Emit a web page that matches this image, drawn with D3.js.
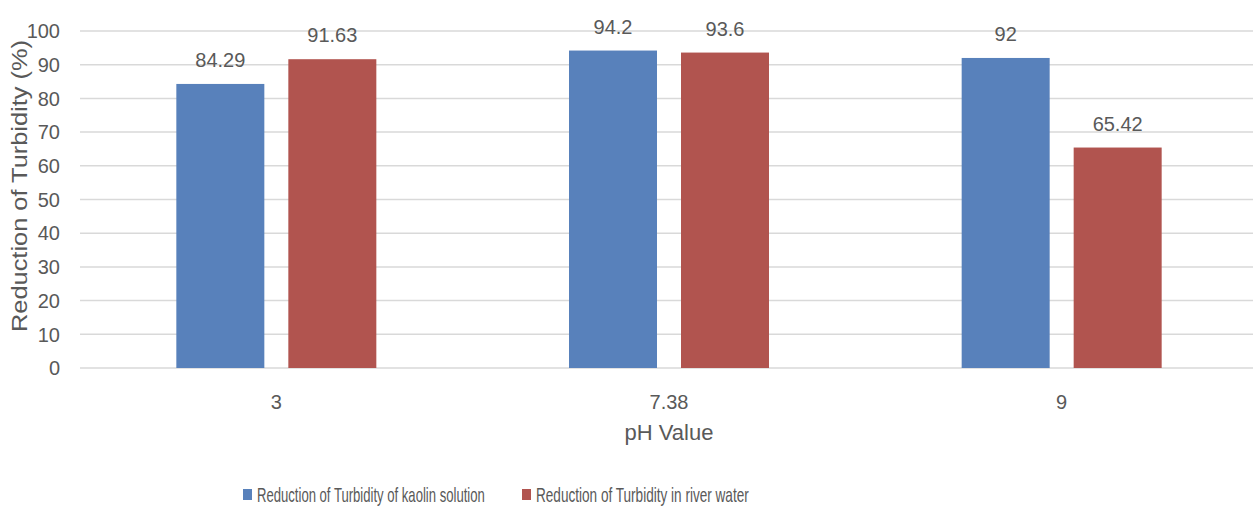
<!DOCTYPE html>
<html><head><meta charset="utf-8">
<script src="https://cdn.jsdelivr.net/npm/d3@7"></script>
<style>body{margin:0;background:#fff}svg{display:block}text{font-family:"Liberation Sans",Arial,sans-serif;fill:#595959}</style>
</head><body><svg id="c" width="1253" height="508"></svg>
<script>
const categories = ["3", "7.38", "9"];
const seriesNames = ["Reduction of Turbidity of kaolin solution", "Reduction of Turbidity in river water"];
const kaolin = [84.29, 94.2, 92];
const river = [91.63, 93.6, 65.42];
const valueLabels = [["84.29", "94.2", "92"], ["91.63", "93.6", "65.42"]];
const yTicks = [0, 10, 20, 30, 40, 50, 60, 70, 80, 90, 100];
const colors = ["#5881BB", "#B1544F"];

const svg = d3.select("#c");
const m = {left: 80, right: -5, top: 31, bottom: 140};
const W = 1253, H = 508;
const x = d3.scaleBand().domain(categories).range([m.left, W - m.right]).paddingInner(0).paddingOuter(0);
const y = d3.scaleLinear().domain([0, 100]).range([368, 31]);
const half = x.bandwidth() / 2;
const inner = d3.scaleBand().domain([0, 1]).range([half - 100, half + 100]).paddingInner(24 / 112);

// gridlines
svg.append("g").selectAll("line").data(yTicks).join("line")
  .attr("x1", m.left).attr("x2", W).attr("y1", d => y(d)).attr("y2", d => y(d))
  .attr("stroke", "#d9d9d9").attr("stroke-width", 1.5);

// y tick labels
svg.append("g").selectAll("text").data(yTicks).join("text")
  .attr("x", 60).attr("y", d => y(d)).attr("dy", "0.36em").attr("text-anchor", "end")
  .attr("font-size", 20).text(d => d);

const series = [kaolin, river];
series.forEach((vals, si) => {
  const g = svg.append("g");
  g.selectAll("rect").data(vals).join("rect")
    .attr("x", (d, i) => x(categories[i]) + inner(si))
    .attr("width", inner.bandwidth())
    .attr("y", d => y(d)).attr("height", d => y(0) - y(d))
    .attr("fill", colors[si]);
  g.selectAll("text").data(vals).join("text")
    .attr("x", (d, i) => x(categories[i]) + inner(si) + inner.bandwidth() / 2)
    .attr("y", d => y(d) - 17).attr("text-anchor", "middle").attr("font-size", 20)
    .text((d, i) => valueLabels[si][i]);
});

// x labels
svg.append("g").selectAll("text").data(categories).join("text")
  .attr("x", d => x(d) + x.bandwidth() / 2).attr("y", 409).attr("text-anchor", "middle")
  .attr("font-size", 20).text(d => d);

svg.append("text").attr("x", 669).attr("y", 440).attr("text-anchor", "middle")
  .attr("font-size", 22).text("pH Value");

// y title, fitted to the reference length
const yt = svg.append("g").attr("transform", "translate(27,186) rotate(-90)");
const ytt = yt.append("text").attr("text-anchor", "middle").attr("font-size", 22).text("Reduction of Turbidity (%)");
const ytw = ytt.node().getComputedTextLength();
ytt.attr("transform", `scale(${292 / ytw},1)`);

// legend
const legX = [243, 522], legW = [228, 213];
const lg = svg.append("g");
seriesNames.forEach((n, i) => {
  lg.append("rect").attr("x", legX[i]).attr("y", 489).attr("width", 9).attr("height", 11).attr("fill", colors[i]);
  const gg = lg.append("g").attr("transform", `translate(${legX[i] + 14},502)`);
  const t = gg.append("text").attr("x", 0).attr("y", 0).attr("font-size", 20).text(n);
  const w = t.node().getComputedTextLength();
  t.attr("transform", `scale(${legW[i] / w},1)`);
});
</script></body></html>
